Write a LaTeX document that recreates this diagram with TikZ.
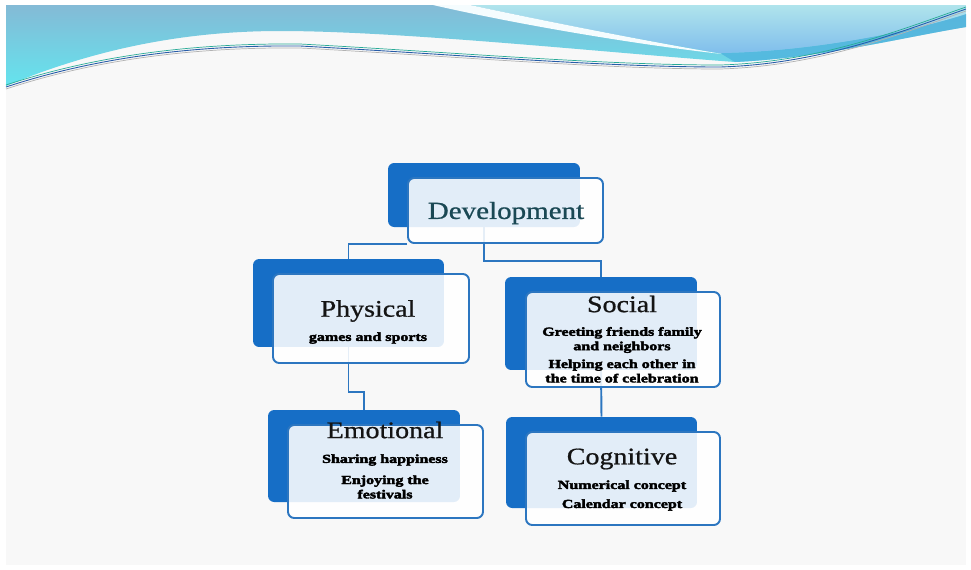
\documentclass[tikz,border=0pt]{standalone}
\usepackage{fontspec}
\setmainfont{Liberation Serif}[FakeStretch=1.3,BoldFeatures={FakeBold=3}]
\newfontfamily\headfont{Liberation Serif}[FakeStretch=1.18,FakeBold=0.8]
\usetikzlibrary{positioning}
\definecolor{cback}{RGB}{22,110,198}
\definecolor{cedge}{RGB}{44,118,192}
\definecolor{cdev}{RGB}{26,72,84}
\definecolor{cslide}{RGB}{248,248,248}
\definecolor{cwavetop}{RGB}{132,186,214}
\definecolor{cwavebot}{RGB}{100,228,238}
\definecolor{cpaletop}{RGB}{176,228,236}
\definecolor{cpalebot}{RGB}{128,190,236}
\definecolor{cstrip}{RGB}{78,180,222}
\definecolor{cthin}{RGB}{40,92,168}
\definecolor{cteal}{RGB}{40,170,150}

\begin{document}
\begin{tikzpicture}[x=0.02cm,y=-0.02cm,
  % one px of the slide = one unit
  back/.style={fill=cback,rounded corners=3.5pt,inner sep=0pt},
  front/.style={draw=cedge,line width=1.1pt,fill=white,fill opacity=0.88,rounded corners=3.5pt,inner sep=0pt},
  ttl/.style={font=\headfont\fontsize{13.5}{15}\selectfont,text=black!92,inner sep=0pt},
  sub/.style={font=\fontsize{7}{8.2}\selectfont\bfseries,align=center,text=black,inner sep=0pt},
  link/.style={draw=cedge,line width=1.1pt},
]
\useasboundingbox (0,0) rectangle (971,569);
\fill[white] (0,0) rectangle (971,569);
\fill[cslide] (6,5) rectangle (966,565);

% =========== the wave across the top ===========
\shade[top color=cwavetop,bottom color=cwavebot]
  (6,5) -- (6,86) .. controls (80,55) and (170,31) .. (280,31)
  .. controls (400,31) and (600,52) .. (735,62)
  .. controls (820,58) and (900,38) .. (966,27) -- (966,5) -- cycle;
\fill[cstrip,opacity=0.8]
  (720,53) .. controls (800,52) and (900,35) .. (966,14) -- (966,27)
  .. controls (900,38) and (820,58) .. (735,62) -- cycle;
\shade[top color=cpaletop,bottom color=cpalebot]
  (470,5) .. controls (540,20) and (640,40) .. (720,53)
  .. controls (800,52) and (900,35) .. (966,14) -- (966,5) -- cycle;
\fill[white!96!cyan]
  (433,5) .. controls (520,25) and (640,45) .. (722,54)
  .. controls (640,40) and (540,20) .. (470,5) -- cycle;
\draw[black!30,line width=0.4pt]
  (6,89) .. controls (100,58) and (200,47) .. (300,48)
  .. controls (450,56) and (600,69) .. (720,69)
  .. controls (820,66) and (900,34) .. (966,11);
\draw[cthin,line width=0.5pt]
  (6,87) .. controls (100,56) and (200,45) .. (300,46)
  .. controls (450,54) and (600,67) .. (720,67)
  .. controls (820,64) and (900,32) .. (966,9);
\draw[cteal,line width=0.4pt]
  (6,85) .. controls (100,54) and (200,43) .. (300,44)
  .. controls (450,52) and (600,65) .. (720,65)
  .. controls (820,62) and (900,30) .. (966,7);

% =========== back boxes ===========
\node[back,minimum width=3.84cm,minimum height=1.28cm] (devB) at (484,195) {};
\node[back,minimum width=3.82cm,minimum height=1.76cm] (phyB) at (348.5,303) {};
\node[back,minimum width=3.84cm,minimum height=1.86cm] (socB) at (601,323.5) {};
\node[back,minimum width=3.84cm,minimum height=1.84cm] (emoB) at (364,456) {};
\node[back,minimum width=3.82cm,minimum height=1.82cm] (cogB) at (601.5,462.5) {};

% =========== connectors (they run behind the front boxes) ===========
\draw[link] (devB.south) -- ++(0,34) -| (socB.north);
\draw[link] (phyB.south) -- ++(0,45) -| (emoB.north);
\draw[link] (socB.south) -- (cogB.north);

% =========== front boxes ===========
\node[front,minimum width=3.90cm,minimum height=1.30cm] (devF) at ([shift={(21.5,15.5)}]devB.center) {};
\node[front,minimum width=3.92cm,minimum height=1.78cm] (phyF) at ([shift={(22.5,15.5)}]phyB.center) {};
\node[front,minimum width=3.88cm,minimum height=1.90cm] (socF) at ([shift={(22,16)}]socB.center) {};
\node[front,minimum width=3.90cm,minimum height=1.86cm] (emoF) at ([shift={(21.5,15.5)}]emoB.center) {};
\node[front,minimum width=3.88cm,minimum height=1.86cm] (cogF) at ([shift={(21.5,16)}]cogB.center) {};
\draw[link] (devF.south west) -| (phyB.north);

% =========== texts ===========
\node[ttl,text=cdev,font=\headfont\fontsize{14}{16}\selectfont] (devT) at (506,213) {Development};
\node[ttl] (phyT) at (368,311) {Physical};
\node[sub] (phyS) at (368,338) {games and sports};
\node[ttl] (socT) at (622,304) {Social};
\node[sub] (socS1) at (622,340) {Greeting friends family\\and neighbors};
\node[sub] (socS2) at (622,371) {Helping each other in\\the time of celebration};
\node[ttl] (emoT) at (385,430) {Emotional};
\node[sub] (emoS1) at (385,460) {Sharing happiness};
\node[sub] (emoS2) at (385,487) {Enjoying the\\festivals};
\node[ttl] (cogT) at (622,459) {Cognitive};
\node[sub] (cogS1) at (622,486) {Numerical concept};
\node[sub] (cogS2) at (622,505) {Calendar concept};

\end{tikzpicture}
\end{document}
